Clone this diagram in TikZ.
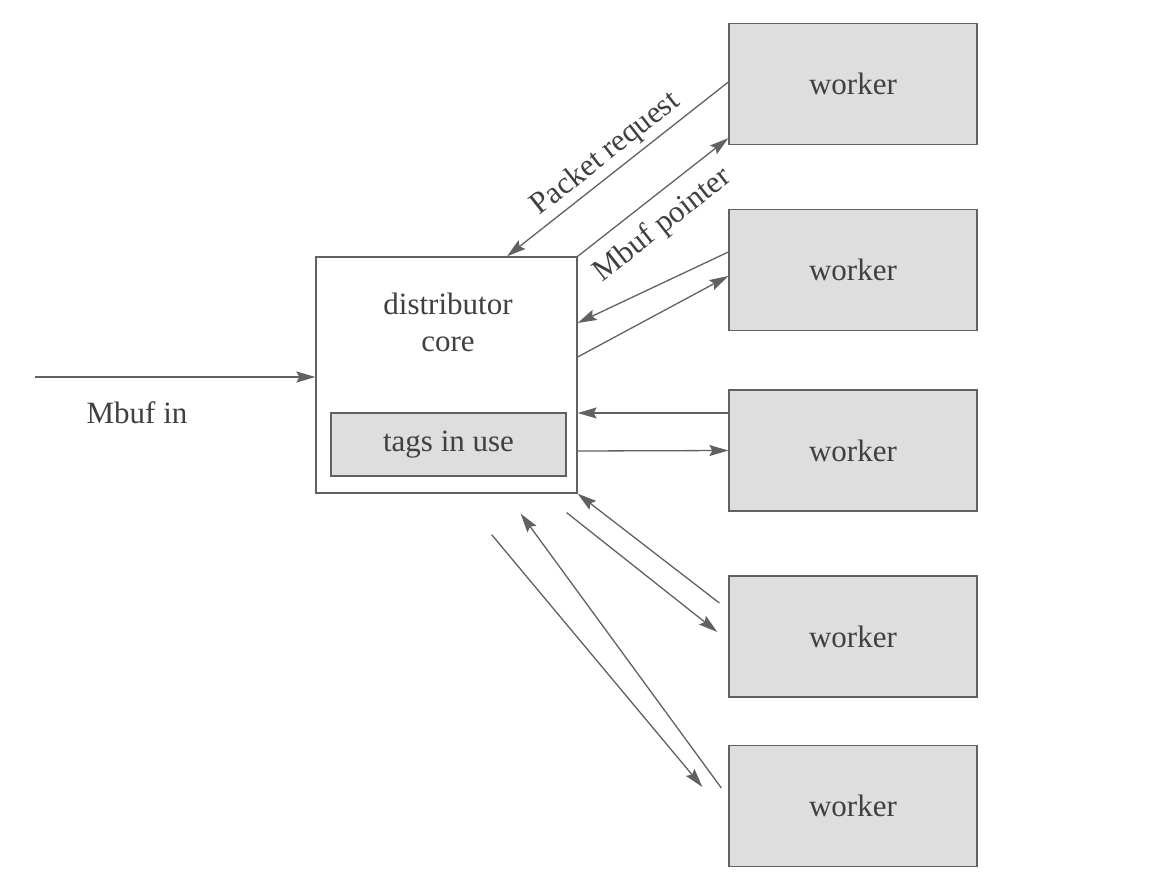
\documentclass[tikz,border=0pt]{standalone}
\usepackage{fontspec}
\setmainfont{Liberation Serif}
\usetikzlibrary{arrows.meta}
\colorlet{linecolor}{black!62}
\colorlet{boxcolor}{black!13}
\colorlet{textcolor}{black!75}
\tikzset{
	,box/.style		 = {rectangle, draw = linecolor, line width = 1.3pt, text = textcolor}
	,worker/.style	 = {box, fill = boxcolor, minimum width = 248pt, minimum height = 121pt}
	,link/.style	 = {draw = linecolor, line width = 1.3pt, -{Stealth[length=19pt, width=11pt, inset=3pt]}}
	,lbl/.style		 = {text = textcolor}
}

\begin{document}
\begin{tikzpicture}[x=1pt, y=-1pt, font=\fontsize{31}{37}\selectfont]
	\useasboundingbox (0,0) rectangle (1174,890);

	% the distributor
	\node[box, minimum width = 261pt, minimum height = 236pt] (dist) at (446.5,375) {};
	\node[lbl, align = center] (distlbl) at (448,322) {distributor\\core};
	\node[box, fill = boxcolor, minimum width = 235pt, minimum height = 63pt] (tags) at (448.5,444.5) {tags in use};

	% the workers
	\node[worker] (w1) at (853,84) {worker};
	\node[worker] (w2) at (853,270) {worker};
	\node[worker] (w3) at (853,450.5) {worker};
	\node[worker] (w4) at (853,636.5) {worker};
	\node[worker] (w5) at (853,806) {worker};

	% input
	\coordinate (src) at (35,377);
	\draw[link] (src) -- ([yshift=-2pt]dist.west);
	\node[lbl] (srclbl) at (137,413) {Mbuf in};

	% the arrows
	\draw[link] ([yshift=2pt]w1.west) -- node[lbl, midway, sloped, above=1pt] {Packet request} ([xshift=60.5pt]dist.north);
	\draw[link] (dist.north east) -- node[lbl, pos=0.45, sloped, below=10pt] {Mbuf pointer} ([yshift=7pt]w1.south west);

	\draw[link] ([yshift=18pt]w2.west) -- ([yshift=52pt]dist.east);
	\draw[link] ([yshift=18pt]dist.east) -- ([yshift=-6pt]w2.west);

	\draw[link] ([yshift=37.5pt]w3.west) -- ([yshift=-38pt]dist.east);
	\draw[link] ([yshift=-76pt]dist.east) -- (w3.west);

	\draw[link] ([xshift=-9pt,yshift=33.5pt]w4.west) -- (dist.south east);
	\draw[link] ([xshift=-11pt,yshift=-19pt]dist.south east) -- ([xshift=-11pt,yshift=4.5pt]w4.west);

	\draw[link] ([xshift=-7pt,yshift=18pt]w5.west) -- ([xshift=-57pt,yshift=-20pt]dist.south east);
	\draw[link] ([xshift=-86pt,yshift=-41pt]dist.south east) -- ([xshift=-26pt,yshift=19pt]w5.west);
\end{tikzpicture}
\end{document}
